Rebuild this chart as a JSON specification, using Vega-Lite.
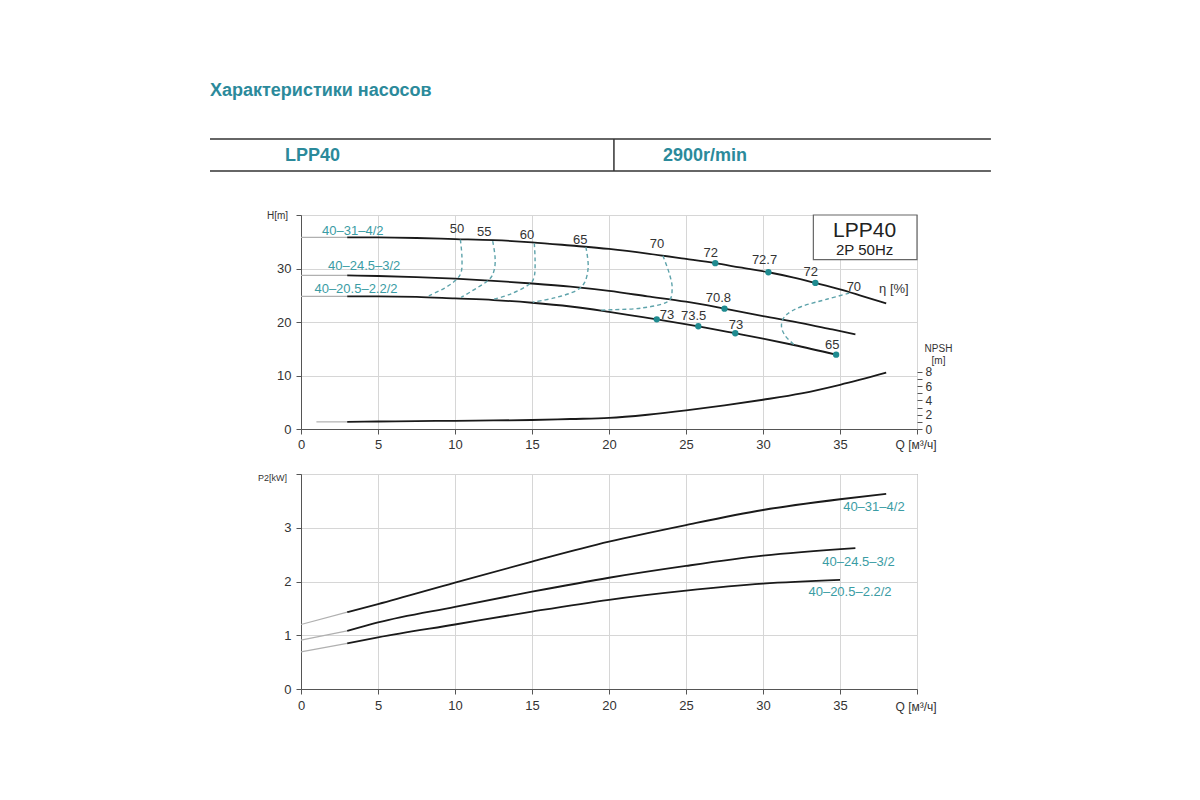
{
  "$schema": "https://vega.github.io/schema/vega-lite/v6.json",
  "background": "white",
  "padding": {"left": 209, "top": 70, "right": 5, "bottom": 5},
  "bounds": "flush",
  "spacing": 45,
  "config": {
    "font": "Liberation Sans",
    "view": {"stroke": "#777", "strokeWidth": 1},
    "axis": {
      "gridColor": "#d6d6d6", "gridWidth": 1,
      "domainColor": "#555", "tickColor": "#555", "tickSize": 5,
      "labelFontSize": 13, "labelColor": "#333", "labelFont": "Liberation Sans",
      "titleFont": "Liberation Sans", "titleFontWeight": "normal", "titleColor": "#333"
    }
  },
  "datasets": {
    "hdrRules": [
      {"x": -5.91, "x2": 44.8, "y": 69, "y2": 69},
      {"x": -5.91, "x2": 44.8, "y": 101, "y2": 101},
      {"x": 20.32, "x2": 20.32, "y": 69, "y2": 101}
    ],
    "hdrText": [
      {"label": "Характеристики насосов", "x": -5.91, "y": 21},
      {"label": "LPP40", "x": -1.04, "y": 86},
      {"label": "2900r/min", "x": 23.5, "y": 86}
    ],
    "head": [
      {"model": "40–31–4/2", "seg": "ext", "Q": 0, "H": 35.8},
      {"model": "40–31–4/2", "seg": "ext", "Q": 3, "H": 35.8},
      {"model": "40–31–4/2", "seg": "main", "Q": 3, "H": 35.8},
      {"model": "40–31–4/2", "seg": "main", "Q": 5, "H": 35.8},
      {"model": "40–31–4/2", "seg": "main", "Q": 7.5, "H": 35.7},
      {"model": "40–31–4/2", "seg": "main", "Q": 10, "H": 35.5},
      {"model": "40–31–4/2", "seg": "main", "Q": 12.5, "H": 35.3},
      {"model": "40–31–4/2", "seg": "main", "Q": 15, "H": 34.9},
      {"model": "40–31–4/2", "seg": "main", "Q": 17.5, "H": 34.3},
      {"model": "40–31–4/2", "seg": "main", "Q": 20, "H": 33.65},
      {"model": "40–31–4/2", "seg": "main", "Q": 22.5, "H": 32.8},
      {"model": "40–31–4/2", "seg": "main", "Q": 25, "H": 31.8},
      {"model": "40–31–4/2", "seg": "main", "Q": 26.9, "H": 31.0},
      {"model": "40–31–4/2", "seg": "main", "Q": 28.5, "H": 30.2},
      {"model": "40–31–4/2", "seg": "main", "Q": 30.35, "H": 29.3},
      {"model": "40–31–4/2", "seg": "main", "Q": 32, "H": 28.3},
      {"model": "40–31–4/2", "seg": "main", "Q": 33.4, "H": 27.3},
      {"model": "40–31–4/2", "seg": "main", "Q": 35, "H": 26.1},
      {"model": "40–31–4/2", "seg": "main", "Q": 36.5, "H": 24.8},
      {"model": "40–31–4/2", "seg": "main", "Q": 38, "H": 23.5},
      {"model": "40–24.5–3/2", "seg": "ext", "Q": 0, "H": 28.7},
      {"model": "40–24.5–3/2", "seg": "ext", "Q": 3, "H": 28.7},
      {"model": "40–24.5–3/2", "seg": "main", "Q": 3, "H": 28.7},
      {"model": "40–24.5–3/2", "seg": "main", "Q": 5, "H": 28.6},
      {"model": "40–24.5–3/2", "seg": "main", "Q": 7.5, "H": 28.4},
      {"model": "40–24.5–3/2", "seg": "main", "Q": 10, "H": 28.1},
      {"model": "40–24.5–3/2", "seg": "main", "Q": 12.5, "H": 27.7},
      {"model": "40–24.5–3/2", "seg": "main", "Q": 15, "H": 27.2},
      {"model": "40–24.5–3/2", "seg": "main", "Q": 17.5, "H": 26.6},
      {"model": "40–24.5–3/2", "seg": "main", "Q": 20, "H": 25.8},
      {"model": "40–24.5–3/2", "seg": "main", "Q": 22.5, "H": 24.8},
      {"model": "40–24.5–3/2", "seg": "main", "Q": 25, "H": 23.8},
      {"model": "40–24.5–3/2", "seg": "main", "Q": 27.5, "H": 22.5},
      {"model": "40–24.5–3/2", "seg": "main", "Q": 30, "H": 21.1},
      {"model": "40–24.5–3/2", "seg": "main", "Q": 32.5, "H": 19.8},
      {"model": "40–24.5–3/2", "seg": "main", "Q": 34.5, "H": 18.6},
      {"model": "40–24.5–3/2", "seg": "main", "Q": 36, "H": 17.7},
      {"model": "40–20.5–2.2/2", "seg": "ext", "Q": 0, "H": 24.8},
      {"model": "40–20.5–2.2/2", "seg": "ext", "Q": 3, "H": 24.8},
      {"model": "40–20.5–2.2/2", "seg": "main", "Q": 3, "H": 24.8},
      {"model": "40–20.5–2.2/2", "seg": "main", "Q": 5, "H": 24.8},
      {"model": "40–20.5–2.2/2", "seg": "main", "Q": 7.5, "H": 24.7},
      {"model": "40–20.5–2.2/2", "seg": "main", "Q": 10, "H": 24.4},
      {"model": "40–20.5–2.2/2", "seg": "main", "Q": 12.5, "H": 24.1},
      {"model": "40–20.5–2.2/2", "seg": "main", "Q": 15, "H": 23.6},
      {"model": "40–20.5–2.2/2", "seg": "main", "Q": 17.5, "H": 22.9},
      {"model": "40–20.5–2.2/2", "seg": "main", "Q": 20, "H": 21.9},
      {"model": "40–20.5–2.2/2", "seg": "main", "Q": 23.1, "H": 20.5},
      {"model": "40–20.5–2.2/2", "seg": "main", "Q": 25.8, "H": 19.2},
      {"model": "40–20.5–2.2/2", "seg": "main", "Q": 28.2, "H": 17.9},
      {"model": "40–20.5–2.2/2", "seg": "main", "Q": 30, "H": 16.9},
      {"model": "40–20.5–2.2/2", "seg": "main", "Q": 32, "H": 15.7},
      {"model": "40–20.5–2.2/2", "seg": "main", "Q": 34.75, "H": 13.9}
    ],
    "iso": [
      {"line": "50", "i": 1, "Q": 10.35, "H": 35.4},
      {"line": "50", "i": 2, "Q": 10.45, "H": 32.2},
      {"line": "50", "i": 3, "Q": 10.4, "H": 29.3},
      {"line": "50", "i": 4, "Q": 10.0, "H": 27.7},
      {"line": "50", "i": 5, "Q": 9.3, "H": 26.3},
      {"line": "50", "i": 6, "Q": 8.3, "H": 24.9},
      {"line": "55", "i": 1, "Q": 12.45, "H": 35.1},
      {"line": "55", "i": 2, "Q": 12.6, "H": 32.2},
      {"line": "55", "i": 3, "Q": 12.55, "H": 29.8},
      {"line": "55", "i": 4, "Q": 12.2, "H": 27.9},
      {"line": "55", "i": 5, "Q": 11.1, "H": 25.8},
      {"line": "55", "i": 6, "Q": 10.4, "H": 24.6},
      {"line": "60", "i": 1, "Q": 15.15, "H": 34.7},
      {"line": "60", "i": 2, "Q": 15.2, "H": 31.6},
      {"line": "60", "i": 3, "Q": 15.15, "H": 28.6},
      {"line": "60", "i": 4, "Q": 14.8, "H": 27.0},
      {"line": "60", "i": 5, "Q": 13.6, "H": 25.2},
      {"line": "60", "i": 6, "Q": 12.45, "H": 24.2},
      {"line": "65", "i": 1, "Q": 18.5, "H": 34.0},
      {"line": "65", "i": 2, "Q": 18.65, "H": 30.4},
      {"line": "65", "i": 3, "Q": 18.4, "H": 27.3},
      {"line": "65", "i": 4, "Q": 17.75, "H": 25.7},
      {"line": "65", "i": 5, "Q": 16.45, "H": 24.5},
      {"line": "65", "i": 6, "Q": 15.05, "H": 23.7},
      {"line": "70a", "i": 1, "Q": 23.5, "H": 32.4},
      {"line": "70a", "i": 2, "Q": 23.9, "H": 29.2},
      {"line": "70a", "i": 3, "Q": 24.1, "H": 26.3},
      {"line": "70a", "i": 4, "Q": 23.8, "H": 23.8},
      {"line": "70a", "i": 5, "Q": 22.1, "H": 22.6},
      {"line": "70a", "i": 6, "Q": 20.3, "H": 22.3},
      {"line": "70a", "i": 7, "Q": 19.3, "H": 22.2},
      {"line": "70b", "i": 1, "Q": 35.6, "H": 25.4},
      {"line": "70b", "i": 2, "Q": 34.2, "H": 24.3},
      {"line": "70b", "i": 3, "Q": 32.5, "H": 22.9},
      {"line": "70b", "i": 4, "Q": 31.5, "H": 21.3},
      {"line": "70b", "i": 5, "Q": 31.2, "H": 19.5},
      {"line": "70b", "i": 6, "Q": 31.4, "H": 17.6},
      {"line": "70b", "i": 7, "Q": 32.0, "H": 15.8}
    ],
    "dots": [
      {"Q": 26.9, "H": 31.0},
      {"Q": 30.35, "H": 29.3},
      {"Q": 33.4, "H": 27.3},
      {"Q": 27.5, "H": 22.5},
      {"Q": 23.1, "H": 20.5},
      {"Q": 25.8, "H": 19.2},
      {"Q": 28.2, "H": 17.9},
      {"Q": 34.75, "H": 13.9}
    ],
    "effLabels": [
      {"label": "50", "Q": 10.13, "H": 37.3},
      {"label": "55", "Q": 11.9, "H": 36.8},
      {"label": "60", "Q": 14.68, "H": 36.3},
      {"label": "65", "Q": 18.14, "H": 35.4},
      {"label": "70", "Q": 23.12, "H": 34.5},
      {"label": "72", "Q": 26.6, "H": 32.9},
      {"label": "72.7", "Q": 30.1, "H": 31.65},
      {"label": "72", "Q": 33.1, "H": 29.3},
      {"label": "70", "Q": 35.9, "H": 26.5},
      {"label": "η [%]", "Q": 38.5, "H": 26.2},
      {"label": "70.8", "Q": 27.1, "H": 24.5},
      {"label": "73", "Q": 23.77, "H": 21.35},
      {"label": "73.5", "Q": 25.5, "H": 21.2},
      {"label": "73", "Q": 28.25, "H": 19.5},
      {"label": "65", "Q": 34.5, "H": 15.7}
    ],
    "headLabels": [
      {"label": "40–31–4/2", "Q": 3.36, "H": 37.1},
      {"label": "40–24.5–3/2", "Q": 4.1, "H": 30.4},
      {"label": "40–20.5–2.2/2", "Q": 3.57, "H": 26.2}
    ],
    "npsh": [
      {"seg": "ext", "Q": 1, "N": 1.0},
      {"seg": "ext", "Q": 3, "N": 1.0},
      {"seg": "main", "Q": 3, "N": 1.0},
      {"seg": "main", "Q": 5, "N": 1.05},
      {"seg": "main", "Q": 7.5, "N": 1.1},
      {"seg": "main", "Q": 10, "N": 1.15},
      {"seg": "main", "Q": 12.5, "N": 1.2},
      {"seg": "main", "Q": 15, "N": 1.26},
      {"seg": "main", "Q": 17.5, "N": 1.4},
      {"seg": "main", "Q": 20, "N": 1.55},
      {"seg": "main", "Q": 22.5, "N": 2.0},
      {"seg": "main", "Q": 25, "N": 2.6},
      {"seg": "main", "Q": 27.5, "N": 3.3},
      {"seg": "main", "Q": 30, "N": 4.1},
      {"seg": "main", "Q": 32.5, "N": 5.0},
      {"seg": "main", "Q": 35, "N": 6.2},
      {"seg": "main", "Q": 38, "N": 7.9}
    ],
    "power": [
      {"model": "40–31–4/2", "seg": "ext", "Q": 0, "P": 1.2},
      {"model": "40–31–4/2", "seg": "ext", "Q": 3, "P": 1.43},
      {"model": "40–31–4/2", "seg": "main", "Q": 3, "P": 1.43},
      {"model": "40–31–4/2", "seg": "main", "Q": 5, "P": 1.58},
      {"model": "40–31–4/2", "seg": "main", "Q": 10, "P": 1.98},
      {"model": "40–31–4/2", "seg": "main", "Q": 15, "P": 2.37},
      {"model": "40–31–4/2", "seg": "main", "Q": 20, "P": 2.74},
      {"model": "40–31–4/2", "seg": "main", "Q": 25, "P": 3.05},
      {"model": "40–31–4/2", "seg": "main", "Q": 30, "P": 3.33},
      {"model": "40–31–4/2", "seg": "main", "Q": 35, "P": 3.53},
      {"model": "40–31–4/2", "seg": "main", "Q": 38, "P": 3.63},
      {"model": "40–24.5–3/2", "seg": "ext", "Q": 0, "P": 0.91},
      {"model": "40–24.5–3/2", "seg": "ext", "Q": 3, "P": 1.08},
      {"model": "40–24.5–3/2", "seg": "main", "Q": 3, "P": 1.08},
      {"model": "40–24.5–3/2", "seg": "main", "Q": 5, "P": 1.24},
      {"model": "40–24.5–3/2", "seg": "main", "Q": 10, "P": 1.53},
      {"model": "40–24.5–3/2", "seg": "main", "Q": 15, "P": 1.81},
      {"model": "40–24.5–3/2", "seg": "main", "Q": 20, "P": 2.07},
      {"model": "40–24.5–3/2", "seg": "main", "Q": 25, "P": 2.29},
      {"model": "40–24.5–3/2", "seg": "main", "Q": 30, "P": 2.48},
      {"model": "40–24.5–3/2", "seg": "main", "Q": 36, "P": 2.62},
      {"model": "40–20.5–2.2/2", "seg": "ext", "Q": 0, "P": 0.69},
      {"model": "40–20.5–2.2/2", "seg": "ext", "Q": 3, "P": 0.85},
      {"model": "40–20.5–2.2/2", "seg": "main", "Q": 3, "P": 0.85},
      {"model": "40–20.5–2.2/2", "seg": "main", "Q": 5, "P": 0.96},
      {"model": "40–20.5–2.2/2", "seg": "main", "Q": 10, "P": 1.2},
      {"model": "40–20.5–2.2/2", "seg": "main", "Q": 15, "P": 1.44},
      {"model": "40–20.5–2.2/2", "seg": "main", "Q": 20, "P": 1.66},
      {"model": "40–20.5–2.2/2", "seg": "main", "Q": 25, "P": 1.83},
      {"model": "40–20.5–2.2/2", "seg": "main", "Q": 30, "P": 1.96},
      {"model": "40–20.5–2.2/2", "seg": "main", "Q": 35, "P": 2.03}
    ],
    "powerLabels": [
      {"label": "40–31–4/2", "Q": 37.2, "P": 3.39},
      {"label": "40–24.5–3/2", "Q": 36.2, "P": 2.36},
      {"label": "40–20.5–2.2/2", "Q": 35.65, "P": 1.81}
    ]
  },
  "vconcat": [
    {
      "width": 616,
      "height": 100,
      "view": {"stroke": null},
      "layer": [
        {
          "data": {"name": "hdrRules"},
          "mark": {"type": "rule", "color": "#333", "strokeWidth": 1.5},
          "encoding": {
            "x": {"field": "x", "type": "quantitative", "scale": {"domain": [0, 40], "nice": false}, "axis": null},
            "x2": {"field": "x2"},
            "y": {"field": "y", "type": "quantitative", "scale": {"domain": [0, 100], "reverse": true, "nice": false}, "axis": null},
            "y2": {"field": "y2"}
          }
        },
        {
          "data": {"name": "hdrText"},
          "mark": {"type": "text", "align": "left", "baseline": "middle", "font": "Liberation Sans", "fontSize": 18, "fontWeight": "bold", "color": "#2b8a9b"},
          "encoding": {
            "x": {"field": "x", "type": "quantitative", "axis": null},
            "y": {"field": "y", "type": "quantitative", "axis": null},
            "text": {"field": "label"}
          }
        }
      ]
    },
    {
      "width": 616,
      "height": 214,
      "layer": [
        {
          "layer": [
            {
              "data": {"name": "head"},
              "mark": {"type": "line", "interpolate": "monotone"},
              "encoding": {
                "x": {
                  "field": "Q", "type": "quantitative",
                  "scale": {"domain": [0, 40], "nice": false},
                  "axis": {
                    "values": [0, 2.5, 5, 7.5, 10, 12.5, 15, 17.5, 20, 22.5, 25, 27.5, 30, 32.5, 35, 37.5, 40],
                    "labelExpr": "datum.value % 5 == 0 && datum.value < 40 ? datum.label : ''",
                    "labelPadding": 4, "labelFlush": false, "labelOverlap": false,
                    "title": "Q [м³/ч]", "titleAngle": 0, "titleAlign": "left", "titleBaseline": "middle",
                    "titleX": 594, "titleY": 15, "titleFontSize": 12
                  }
                },
                "y": {
                  "field": "H", "type": "quantitative",
                  "scale": {"domain": [0, 40], "nice": false},
                  "axis": {
                    "values": [0, 5, 10, 15, 20, 25, 30, 35, 40],
                    "labelExpr": "datum.value % 10 == 0 && datum.value < 40 ? datum.label : ''",
                    "labelPadding": 5, "labelOverlap": false,
                    "title": "H[m]", "titleAngle": 0, "titleAlign": "center", "titleBaseline": "middle",
                    "titleX": -24, "titleY": 0, "titleFontSize": 10
                  }
                },
                "detail": {"field": "model"},
                "color": {"field": "seg", "type": "nominal", "scale": {"domain": ["main", "ext"], "range": ["#1a1a1a", "#b0b0b0"]}, "legend": null},
                "strokeWidth": {"field": "seg", "type": "nominal", "scale": {"domain": ["main", "ext"], "range": [1.8, 1.2]}, "legend": null}
              }
            },
            {
              "data": {"name": "iso"},
              "mark": {"type": "line", "interpolate": "cardinal", "strokeDash": [4, 3], "color": "#5ea3ab", "strokeWidth": 1.4},
              "encoding": {
                "x": {"field": "Q", "type": "quantitative"},
                "y": {"field": "H", "type": "quantitative"},
                "detail": {"field": "line"},
                "order": {"field": "i", "type": "quantitative"}
              }
            },
            {
              "data": {"name": "dots"},
              "mark": {"type": "circle", "size": 40, "color": "#1f8b90", "opacity": 1},
              "encoding": {
                "x": {"field": "Q", "type": "quantitative"},
                "y": {"field": "H", "type": "quantitative"}
              }
            },
            {
              "data": {"name": "effLabels"},
              "mark": {"type": "text", "fontSize": 13, "color": "#333", "font": "Liberation Sans"},
              "encoding": {
                "x": {"field": "Q", "type": "quantitative"},
                "y": {"field": "H", "type": "quantitative"},
                "text": {"field": "label"}
              }
            },
            {
              "data": {"name": "headLabels"},
              "mark": {"type": "text", "fontSize": 13, "color": "#3a9ca4", "font": "Liberation Sans"},
              "encoding": {
                "x": {"field": "Q", "type": "quantitative"},
                "y": {"field": "H", "type": "quantitative"},
                "text": {"field": "label"}
              }
            },
            {
              "data": {"values": [{"Q": 33.27, "Q2": 40, "H": 31.65, "H2": 40}]},
              "mark": {"type": "rect", "fill": "white", "stroke": "#666", "strokeWidth": 1.2},
              "encoding": {
                "x": {"field": "Q", "type": "quantitative"},
                "x2": {"field": "Q2"},
                "y": {"field": "H", "type": "quantitative"},
                "y2": {"field": "H2"}
              }
            },
            {
              "data": {"values": [{"label": "LPP40", "Q": 36.6, "H": 36.95}]},
              "mark": {"type": "text", "fontSize": 21, "color": "#222", "font": "Liberation Sans"},
              "encoding": {
                "x": {"field": "Q", "type": "quantitative"},
                "y": {"field": "H", "type": "quantitative"},
                "text": {"field": "label"}
              }
            },
            {
              "data": {"values": [{"label": "2P 50Hz", "Q": 36.6, "H": 33.5}]},
              "mark": {"type": "text", "fontSize": 15, "color": "#222", "font": "Liberation Sans"},
              "encoding": {
                "x": {"field": "Q", "type": "quantitative"},
                "y": {"field": "H", "type": "quantitative"},
                "text": {"field": "label"}
              }
            }
          ]
        },
        {
          "data": {"name": "npsh"},
          "mark": {"type": "line", "interpolate": "monotone"},
          "encoding": {
            "x": {"field": "Q", "type": "quantitative"},
            "y": {
              "field": "N", "type": "quantitative",
              "scale": {"domain": [0, 30], "nice": false},
              "axis": {
                "orient": "right", "grid": false, "domain": false,
                "values": [0, 1, 2, 3, 4, 5, 6, 7, 8],
                "labelExpr": "datum.value % 2 == 0 ? datum.label : ''",
                "labelPadding": 3, "labelFontSize": 12, "labelOverlap": false,
                "title": ["NPSH", "[m]"], "titleAngle": 0, "titleAlign": "center", "titleBaseline": "middle",
                "titleX": 21, "titleY": 133, "titleFontSize": 10, "titleLineHeight": 12
              }
            },
            "color": {"field": "seg", "type": "nominal", "scale": {"domain": ["main", "ext"], "range": ["#1a1a1a", "#b0b0b0"]}, "legend": null},
            "strokeWidth": {"field": "seg", "type": "nominal", "scale": {"domain": ["main", "ext"], "range": [1.8, 1.2]}, "legend": null}
          }
        }
      ],
      "resolve": {"scale": {"y": "independent"}}
    },
    {
      "width": 616,
      "height": 215,
      "layer": [
        {
          "data": {"name": "power"},
          "mark": {"type": "line", "interpolate": "monotone"},
          "encoding": {
            "x": {
              "field": "Q", "type": "quantitative",
              "scale": {"domain": [0, 40], "nice": false},
              "axis": {
                "values": [0, 2.5, 5, 7.5, 10, 12.5, 15, 17.5, 20, 22.5, 25, 27.5, 30, 32.5, 35, 37.5, 40],
                "labelExpr": "datum.value % 5 == 0 && datum.value < 40 ? datum.label : ''",
                "labelPadding": 5, "labelFlush": false, "labelOverlap": false,
                "title": "Q [м³/ч]", "titleAngle": 0, "titleAlign": "left", "titleBaseline": "middle",
                "titleX": 594, "titleY": 17, "titleFontSize": 12
              }
            },
            "y": {
              "field": "P", "type": "quantitative",
              "scale": {"domain": [0, 4], "nice": false},
              "axis": {
                "values": [0, 0.5, 1, 1.5, 2, 2.5, 3, 3.5, 4],
                "format": ".0f",
                "labelExpr": "datum.value % 1 == 0 && datum.value < 4 ? datum.label : ''",
                "labelPadding": 5, "labelOverlap": false,
                "title": "P2[kW]", "titleAngle": 0, "titleAlign": "center", "titleBaseline": "middle",
                "titleX": -29, "titleY": 3, "titleFontSize": 9
              }
            },
            "detail": {"field": "model"},
            "color": {"field": "seg", "type": "nominal", "scale": {"domain": ["main", "ext"], "range": ["#1a1a1a", "#b0b0b0"]}, "legend": null},
            "strokeWidth": {"field": "seg", "type": "nominal", "scale": {"domain": ["main", "ext"], "range": [1.8, 1.2]}, "legend": null}
          }
        },
        {
          "data": {"name": "powerLabels"},
          "mark": {"type": "text", "fontSize": 13, "color": "#3a9ca4", "font": "Liberation Sans"},
          "encoding": {
            "x": {"field": "Q", "type": "quantitative"},
            "y": {"field": "P", "type": "quantitative"},
            "text": {"field": "label"}
          }
        }
      ]
    }
  ]
}
